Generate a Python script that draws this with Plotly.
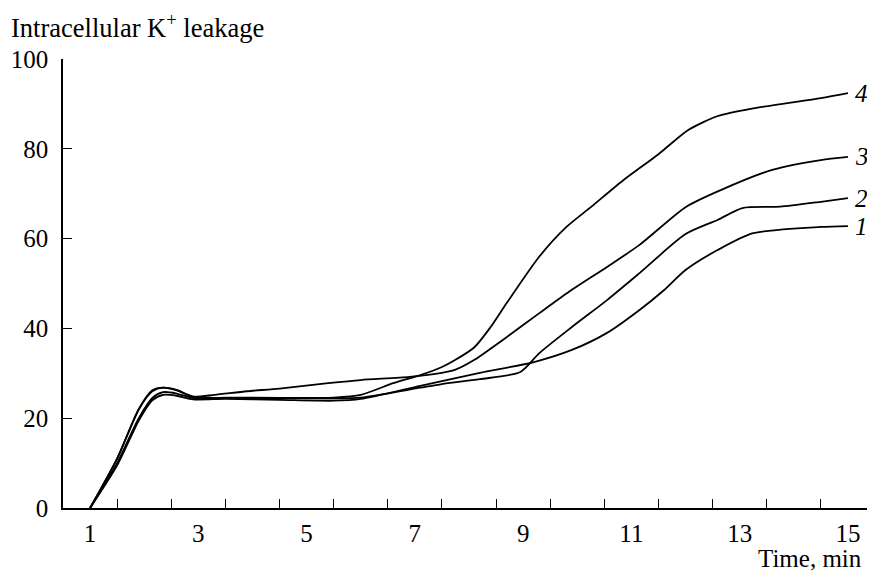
import plotly.graph_objects as go

# Time (min) and intracellular K+ leakage for curves 1-4
x1 = [1, 1.5, 1.9, 2.15, 2.35, 2.6, 2.9, 3.5, 4.5, 5.5, 6.0, 7.1, 8.2, 9.2, 9.9, 10.55, 11.15, 11.6, 12.0, 12.6, 13.25, 14.5, 15]
y1 = [0, 9.5, 19.5, 24, 25.2, 25.0, 24.2, 24.3, 24.1, 23.9, 24.3, 27.2, 30.1, 32.5, 35.2, 39.0, 44.1, 48.5, 53.0, 57.5, 61.2, 62.6, 62.8]

x2 = [1, 1.5, 1.9, 2.15, 2.35, 2.6, 2.9, 3.5, 4.5, 5.5, 6.0, 7.1, 7.5, 8.2, 8.95, 9.3, 9.9, 10.55, 11.15, 12.0, 12.6, 13.05, 13.75, 14.5, 15]
y2 = [0, 10, 20, 24.5, 25.8, 25.5, 24.5, 24.6, 24.5, 24.4, 24.6, 26.8, 27.6, 28.7, 30.3, 34.5, 40.3, 46.3, 52.3, 61.0, 64.2, 66.8, 67.1, 68.2, 69.0]

x3 = [1, 1.5, 1.9, 2.15, 2.35, 2.6, 2.9, 3.3, 3.9, 4.5, 5.4, 6.0, 6.9, 7.5, 7.75, 8.1, 8.7, 9.3, 9.9, 10.55, 11.15, 12.0, 12.65, 13.6, 14.5, 15]
y3 = [0, 11, 22, 26, 26.8, 26.2, 24.8, 25.2, 26.0, 26.6, 27.8, 28.5, 29.2, 30.1, 30.8, 33.0, 38.1, 43.4, 48.6, 53.7, 58.6, 67.0, 70.8, 75.3, 77.5, 78.2]

x4 = [1, 1.5, 1.9, 2.15, 2.35, 2.6, 2.9, 3.5, 4.5, 5.5, 6.0, 6.6, 7.1, 7.5, 7.75, 8.1, 8.4, 8.7, 9.3, 9.8, 10.25, 10.85, 11.5, 12.05, 12.6, 13.25, 14.5, 15]
y4 = [0, 11, 22, 26.2, 26.8, 26.3, 24.8, 24.5, 24.5, 24.6, 25.2, 27.8, 29.6, 31.4, 33.0, 35.8, 40.3, 45.7, 56.0, 62.6, 67.0, 73.0, 78.8, 84.2, 87.3, 89.0, 91.3, 92.4]

curve_labels = ["1", "2", "3", "4"]
x_tick_vals = [1, 3, 5, 7, 9, 11, 13, 15]
x_minor_ticks = [i + 0.5 for i in range(1, 16)]
y_tick_vals = [0, 20, 40, 60, 80, 100]

FONT = "Liberation Serif"
FS = 25

# page body has an 8px margin; size figure so it fills the window exactly
OFF = 8
W, H = 875 - OFF, 572 - OFF
L, T, R, B = 63 - OFF, 59 - OFF, 0, H - (508 - OFF)
PW, PH = W - L - R, H - T - B


def px(xp):
    return (xp - 63) / PW


def py(yp):
    return (508 - yp) / PH


fig = go.Figure()
series = [(x1, y1), (x2, y2), (x3, y3), (x4, y4)]
for (xs, ys), lab in zip(series, curve_labels):
    fig.add_trace(go.Scatter(x=xs, y=ys, mode="lines",
                             line=dict(color="black", width=1.8, shape="spline", smoothing=0.7),
                             showlegend=False, name=lab))
    fig.add_annotation(x=15.1, y=ys[-1], text=lab, showarrow=False,
                       xanchor="left", yanchor="middle",
                       font=dict(family=FONT, size=FS, color="black", style="italic"))

fig.add_annotation(xref="paper", yref="paper", x=px(9), y=py(26),
                   text="Intracellular K<sup>+</sup> leakage", showarrow=False,
                   xanchor="left", yanchor="middle",
                   font=dict(family=FONT, size=26.5, color="black"))
fig.add_annotation(xref="paper", yref="paper", x=px(864), y=py(558),
                   text="Time, min", showarrow=False,
                   xanchor="right", yanchor="middle",
                   font=dict(family=FONT, size=FS, color="black"))

fig.update_layout(
    width=W, height=H,
    margin=dict(l=L, r=R, t=T, b=B, pad=0),
    paper_bgcolor="white", plot_bgcolor="white",
    font=dict(family=FONT, size=FS, color="black"),
    xaxis=dict(range=[0.5, 15.5], tickvals=x_tick_vals, ticks="", showgrid=False,
               zeroline=False, showline=True, linecolor="black", linewidth=1.5,
               ticklabelstandoff=2, automargin=False,
               minor=dict(tickvals=x_minor_ticks, ticks="inside", ticklen=9,
                          tickwidth=1.3, tickcolor="black", showgrid=False)),
    yaxis=dict(range=[0, 100], tickvals=y_tick_vals, ticks="inside", ticklen=9,
               tickwidth=1.3, tickcolor="black", showgrid=False, zeroline=False,
               showline=True, linecolor="black", linewidth=1.5, ticklabelstandoff=8,
               automargin=False),
)

fig.write_html("out.html")
